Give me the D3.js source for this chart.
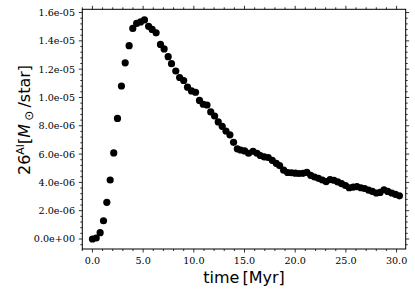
<!DOCTYPE html>
<html>
<head>
<meta charset="utf-8">
<script src="https://cdn.jsdelivr.net/npm/d3@7"></script>
<style>
  html, body { margin: 0; padding: 0; background: #fff; }
  svg { display: block; }
  .tick-label { font-family: "DejaVu Serif", serif; font-size: 9.6px; fill: #000; }
  .axis-label { font-family: "DejaVu Sans", sans-serif; font-size: 16px; fill: #000; }
  .frame { fill: none; stroke: #000; stroke-width: 1; }
  .tick { stroke: #000; stroke-width: 0.8; }
</style>
</head>
<body>
<svg id="chart" width="415" height="294"></svg>
<script>
// time [Myr] of each snapshot
const times = [
  0.00, 0.37, 0.76, 1.09, 1.42, 1.75, 2.10, 2.47, 2.86, 3.23,
  3.62, 3.98, 4.36, 4.75, 5.13, 5.54, 5.89, 6.28, 6.71, 7.07,
  7.47, 7.80, 8.22, 8.60, 9.00, 9.38, 9.77, 10.17, 10.56, 10.93,
  11.30, 11.67, 12.05, 12.41, 12.80, 13.17, 13.56, 13.92, 14.29, 14.61,
  15.01, 15.40, 15.84, 16.23, 16.56, 16.95, 17.34, 17.74, 18.13, 18.46,
  18.86, 19.25, 19.63, 20.01, 20.39, 20.77, 21.15, 21.53, 21.91, 22.29,
  22.68, 23.05, 23.44, 23.82, 24.20, 24.57, 24.96, 25.33, 25.72, 26.09,
  26.48, 26.85, 27.24, 27.61, 28.00, 28.37, 28.76, 29.13, 29.52, 29.89,
  30.28
]
// 26Al mass per star, in units of 1e-6 Msun
const al26 = [
  0.00, 0.07, 0.45, 1.29, 2.59, 4.17, 6.08, 8.52, 10.81, 12.45,
  13.66, 14.88, 15.23, 15.34, 15.48, 15.03, 14.81, 14.57, 13.75, 13.43,
  12.88, 12.39, 11.87, 11.41, 11.20, 10.73, 10.46, 10.37, 9.79, 9.52,
  9.47, 8.98, 8.69, 8.27, 7.96, 7.63, 7.36, 6.83, 6.37, 6.29,
  6.22, 6.06, 6.20, 6.06, 5.90, 5.80, 5.76, 5.56, 5.35, 5.19,
  4.86, 4.70, 4.68, 4.65, 4.63, 4.64, 4.71, 4.50, 4.38, 4.29,
  4.17, 4.06, 4.20, 4.15, 4.03, 3.92, 3.78, 3.62, 3.67, 3.70,
  3.62, 3.57, 3.46, 3.37, 3.25, 3.29, 3.48, 3.36, 3.25, 3.16,
  3.05
]
const xTicks = [0, 5, 10, 15, 20, 25, 30]
const xTickLabels = ['0.0', '5.0', '10.0', '15.0', '20.0', '25.0', '30.0']
const yTicks = [0, 2, 4, 6, 8, 10, 12, 14, 16]
const yTickLabels = ['0.0e+00', '2.0e-06', '4.0e-06', '6.0e-06', '8.0e-06',
                     '1.0e-05', '1.2e-05', '1.4e-05', '1.6e-05']

const width = 415
    , height = 294
    , plotLeft = 82.3
    , plotRight = 405.7
    , plotTop = 9.3
    , plotBottom = 249
    , majorLen = 3.5
    , minorLen = 2
    , scaleX = d3.scaleLinear().domain([-1, 30.9]).range([plotLeft, plotRight])
    , scaleY = d3.scaleLinear().domain([-0.706, 16.23]).range([plotBottom, plotTop])
    , svg = d3.select('#chart')

const points = times.map((t, i) => ({ t, v: al26[i] }))

svg.append('g')
  .selectAll('circle')
  .data(points)
  .join('circle')
  .attr('cx', d => scaleX(d.t))
  .attr('cy', d => scaleY(d.v))
  .attr('r', 3.6)
  .attr('fill', '#000')

svg.append('rect')
  .attr('class', 'frame')
  .attr('x', plotLeft).attr('y', plotTop)
  .attr('width', plotRight - plotLeft).attr('height', plotBottom - plotTop)

// ticks, outward on all four sides
const xMinor = d3.range(-1, 31, 1).filter(v => v % 5 !== 0)
const yMinor = d3.range(-0.4, 16.2, 0.4).filter(v => Math.abs(v / 2 - Math.round(v / 2)) > 1e-6)
const ticks = svg.append('g')
const drawX = (vals, len) => {
  ticks.selectAll(null).data(vals).join('line').attr('class', 'tick')
    .attr('x1', scaleX).attr('x2', scaleX)
    .attr('y1', plotBottom).attr('y2', plotBottom + len)
  ticks.selectAll(null).data(vals).join('line').attr('class', 'tick')
    .attr('x1', scaleX).attr('x2', scaleX)
    .attr('y1', plotTop).attr('y2', plotTop - len)
}
const drawY = (vals, len) => {
  ticks.selectAll(null).data(vals).join('line').attr('class', 'tick')
    .attr('y1', scaleY).attr('y2', scaleY)
    .attr('x1', plotLeft).attr('x2', plotLeft - len)
  ticks.selectAll(null).data(vals).join('line').attr('class', 'tick')
    .attr('y1', scaleY).attr('y2', scaleY)
    .attr('x1', plotRight).attr('x2', plotRight + len)
}
drawX(xTicks, majorLen)
drawX(xMinor, minorLen)
drawY(yTicks, majorLen)
drawY(yMinor, minorLen)

svg.append('g')
  .selectAll('text')
  .data(xTicks)
  .join('text')
  .attr('class', 'tick-label')
  .attr('x', scaleX)
  .attr('y', 264)
  .attr('text-anchor', 'middle')
  .text((d, i) => xTickLabels[i])

svg.append('g')
  .selectAll('text')
  .data(yTicks)
  .join('text')
  .attr('class', 'tick-label')
  .attr('x', 75)
  .attr('y', d => scaleY(d))
  .attr('dy', '0.36em')
  .attr('text-anchor', 'end')
  .text((d, i) => yTickLabels[i])

svg.append('text')
  .attr('class', 'axis-label')
  .attr('x', (plotLeft + plotRight) / 2)
  .attr('y', 282.5)
  .attr('text-anchor', 'middle')
  .text('time\u2009[Myr]')

const yLabel = svg.append('text')
  .attr('class', 'axis-label')
  .attr('text-anchor', 'middle')
  .attr('transform', `translate(${[29.5, 120]}) rotate(-90)`)
yLabel.append('tspan').text('26')
yLabel.append('tspan').attr('font-size', '11px').attr('dy', '-6').text('Al')
yLabel.append('tspan').attr('dy', '6').text('[')
yLabel.append('tspan').attr('font-style', 'italic').text('M\u2009')
yLabel.append('tspan').attr('font-size', '12px').attr('dy', '3').text('\u2299')
yLabel.append('tspan').attr('dy', '-3').text('\u2009/star]')
</script>
</body>
</html>
